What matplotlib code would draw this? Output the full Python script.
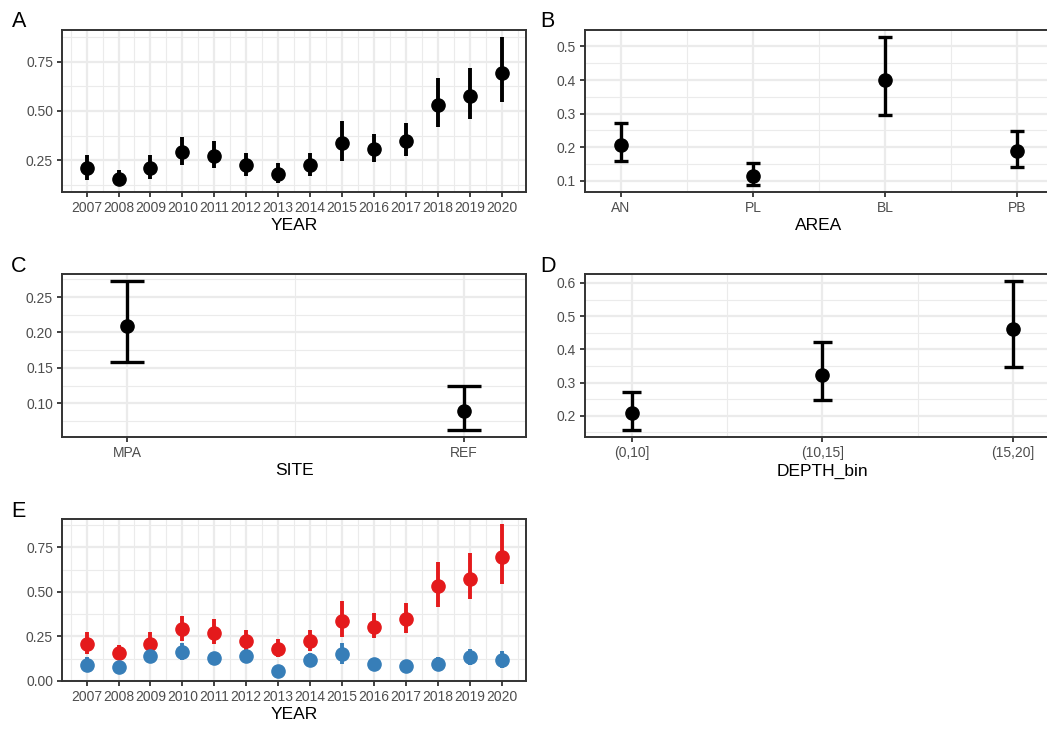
import numpy as np
import matplotlib
matplotlib.use("Agg")
import matplotlib.pyplot as plt
from matplotlib.ticker import FixedLocator

plt.rcParams["font.family"] = ["Liberation Sans", "DejaVu Sans"]

# --- data ---
years = [2007, 2008, 2009, 2010, 2011, 2012, 2013, 2014, 2015, 2016, 2017, 2018, 2019, 2020]
mpa_mean = [0.208, 0.156, 0.208, 0.289, 0.272, 0.223, 0.181, 0.227, 0.336, 0.305, 0.346, 0.532, 0.575, 0.696]
mpa_low = [0.149, 0.122, 0.154, 0.223, 0.210, 0.168, 0.134, 0.171, 0.245, 0.240, 0.272, 0.418, 0.460, 0.545]
mpa_high = [0.277, 0.201, 0.277, 0.367, 0.346, 0.284, 0.237, 0.285, 0.450, 0.384, 0.437, 0.669, 0.718, 0.879]

ref_mean = [0.092, 0.079, 0.138, 0.164, 0.127, 0.140, 0.058, 0.120, 0.150, 0.095, 0.084, 0.095, 0.133, 0.120]
ref_low = [0.068, 0.060, 0.100, 0.118, 0.090, 0.103, 0.036, 0.084, 0.095, 0.065, 0.060, 0.062, 0.092, 0.075]
ref_high = [0.136, 0.100, 0.183, 0.215, 0.165, 0.174, 0.080, 0.159, 0.211, 0.127, 0.108, 0.136, 0.178, 0.170]

areas = ["AN", "PL", "BL", "PB"]
area_mean = [0.208, 0.116, 0.399, 0.189]
area_low = [0.158, 0.088, 0.296, 0.142]
area_high = [0.273, 0.152, 0.528, 0.248]

sites = ["MPA", "REF"]
site_mean = [0.209, 0.0896]
site_low = [0.158, 0.063]
site_high = [0.272, 0.125]

depth_bins = ["(0,10]", "(10,15]", "(15,20]"]
depth_mean = [0.207, 0.323, 0.462]
depth_low = [0.158, 0.246, 0.348]
depth_high = [0.273, 0.423, 0.605]

# --- styling ---
W, H = 1047, 731
fig = plt.figure(figsize=(W / 100, H / 100), dpi=100)

GRID = "#EBEBEB"
DARK = "#333333"
TICKTXT = "#4D4D4D"
RED = "#E41A1C"
BLUE = "#377EB8"


def px_axes(left, top, right, bottom):
    return fig.add_axes([left / W, 1 - bottom / H, (right - left) / W, (bottom - top) / H])


def style(ax, xmajor, xminor, ymajor, yminor, xlabels, ylabels, xlabel):
    ax.set_axisbelow(True)
    ax.xaxis.set_major_locator(FixedLocator(xmajor))
    ax.xaxis.set_minor_locator(FixedLocator(xminor))
    ax.yaxis.set_major_locator(FixedLocator(ymajor))
    ax.yaxis.set_minor_locator(FixedLocator(yminor))
    ax.set_xticklabels(xlabels)
    ax.set_yticklabels(ylabels)
    ax.grid(which="major", color=GRID, lw=1.6)
    ax.grid(which="minor", color=GRID, lw=0.8)
    ax.tick_params(which="major", length=3.8, width=1.3, color=DARK,
                   labelsize=10, labelcolor=TICKTXT, pad=2.6)
    ax.tick_params(which="minor", length=0)
    for s in ax.spines.values():
        s.set_color(DARK)
        s.set_linewidth(1.4)
    ax.set_xlabel(xlabel, fontsize=12.5, labelpad=2.5)


def pointrange(ax, x, m, lo, hi, color="black"):
    ax.vlines(x, lo, hi, color=color, lw=2.8, zorder=3)
    ax.plot(x, m, "o", color=color, ms=9.5, zorder=4)


def errbar(ax, x, m, lo, hi, w=0.1):
    x = np.asarray(x, dtype=float)
    ax.vlines(x, lo, hi, color="black", lw=2.4, zorder=3)
    ax.hlines(lo, x - w / 2, x + w / 2, color="black", lw=2.4, zorder=3)
    ax.hlines(hi, x - w / 2, x + w / 2, color="black", lw=2.4, zorder=3)
    ax.plot(x, m, "o", color="black", ms=9.5, zorder=4)


yr_minor = [y + 0.5 for y in years[:-1]] + [years[0] - 0.5, years[-1] + 0.5]

# A
axA = px_axes(62, 30, 526, 192)
pointrange(axA, years, mpa_mean, mpa_low, mpa_high)
axA.set_xlim(2006.23, 2020.76)
axA.set_ylim(0.0875, 0.9125)
style(axA, years, yr_minor, [0.25, 0.5, 0.75], [0.125, 0.375, 0.625, 0.875],
      [str(y) for y in years], ["0.25", "0.50", "0.75"], "YEAR")

# B
axB = px_axes(585, 30, 1053, 192)
xb = np.arange(1, len(areas) + 1)
errbar(axB, xb, area_mean, area_low, area_high)
axB.set_xlim(0.727, 4.273)
axB.set_ylim(0.067, 0.549)
style(axB, xb, [1.5, 2.5, 3.5], [0.1, 0.2, 0.3, 0.4, 0.5],
      [0.15, 0.25, 0.35, 0.45], areas, ["0.1", "0.2", "0.3", "0.4", "0.5"], "AREA")

# C
axC = px_axes(62, 274, 526, 437)
xc = np.arange(1, len(sites) + 1)
errbar(axC, xc, site_mean, site_low, site_high)
axC.set_xlim(0.807, 2.185)
axC.set_ylim(0.0525, 0.2825)
style(axC, xc, [1.5], [0.10, 0.15, 0.20, 0.25], [0.075, 0.125, 0.175, 0.225, 0.275],
      sites, ["0.10", "0.15", "0.20", "0.25"], "SITE")

# D
axD = px_axes(585, 274, 1059.6, 437)
xd = np.arange(1, len(depth_bins) + 1)
errbar(axD, xd, depth_mean, depth_low, depth_high)
axD.set_xlim(0.756, 3.244)
axD.set_ylim(0.136, 0.627)
style(axD, xd, [1.5, 2.5], [0.2, 0.3, 0.4, 0.5, 0.6], [0.15, 0.25, 0.35, 0.45, 0.55],
      depth_bins, ["0.2", "0.3", "0.4", "0.5", "0.6"], "DEPTH_bin")

# E
axE = px_axes(62, 519, 526, 681)
pointrange(axE, years, mpa_mean, mpa_low, mpa_high, color=RED)
pointrange(axE, years, ref_mean, ref_low, ref_high, color=BLUE)
axE.set_xlim(2006.23, 2020.76)
axE.set_ylim(0, 0.909)
style(axE, years, yr_minor, [0, 0.25, 0.5, 0.75], [0.125, 0.375, 0.625, 0.875],
      [str(y) for y in years], ["0.00", "0.25", "0.50", "0.75"], "YEAR")

# panel tags
for tag, x, y in [("A", 12, 27), ("B", 540, 27), ("C", 11, 272), ("D", 540, 272), ("E", 11, 517)]:
    fig.text(x / W, 1 - y / H, tag, fontsize=15.5, va="baseline", ha="left")

fig.savefig("out.png", dpi=100)
